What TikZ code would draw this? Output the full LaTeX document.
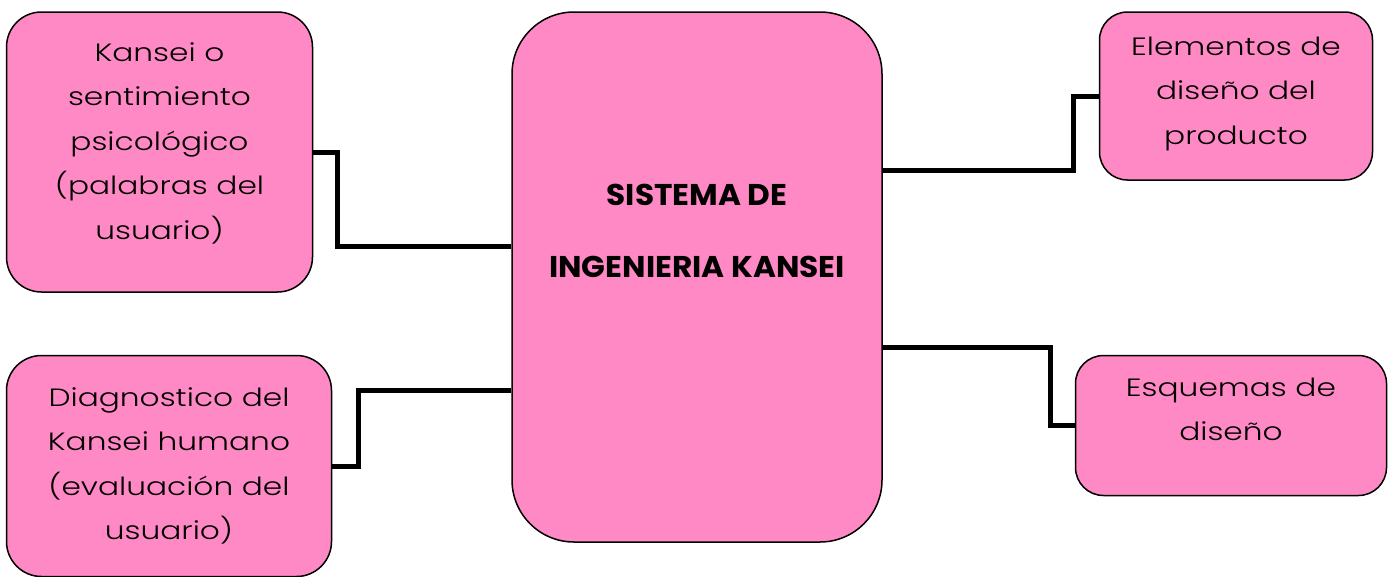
\documentclass[tikz,border=0pt]{standalone}
\usepackage{fontspec}
\setmainfont{Poppins}[UprightFont=* Light, BoldFont=* Bold, FakeStretch=1.25]
\newfontfamily\titulo{Poppins}[FakeStretch=1.04]
\usetikzlibrary{positioning}
\definecolor{rosa}{RGB}{255,137,196}
\tikzset{wire/.style={line width=5pt, black}}

\begin{document}
\begin{tikzpicture}[x=1pt,y=-1pt,font=\fontsize{25}{44.5}\selectfont]
\tikzstyle{caja} = [draw, line width=1.5pt, fill=rosa, rounded corners=35pt, align=center, inner sep=0pt, text depth=0pt]
\tikzstyle{central} = [caja, rounded corners=62pt, minimum width=370pt, minimum height=530pt, font=\fontsize{30}{72}\titulo\bfseries]

\useasboundingbox (0,0) rectangle (1400,576);

\node[central, text height=0pt] (sys) at (697,277) {SISTEMA DE\\INGENIERIA KANSEI};

\node[caja, minimum width=306pt, minimum height=280pt, text height=174pt] (kansei) [left = 198pt of sys.north west, anchor=north east] {Kansei o\\sentimiento\\psicológico\\(palabras del\\usuario)};
\node[caja, minimum width=325pt, minimum height=221pt, text height=147pt] (diag) [below = 62pt of kansei.south west, anchor=north west] {Diagnostico del\\Kansei humano\\(evaluación del\\usuario)};
\node[caja, rounded corners=28pt, minimum width=273pt, minimum height=168pt, text height=96pt] (elem) [right = 216pt of sys.north east, anchor=north west] {Elementos de\\diseño del\\producto};
\node[caja, rounded corners=28pt, minimum width=311pt, minimum height=140pt, text height=30pt] (esq) [below = 174pt of elem.south west, anchor=north west, xshift=-24pt] {Esquemas de\\diseño};

\draw[wire] (kansei.east) -- ++(24,0) |- (sys.west |- 0,246);
\draw[wire] (diag.east) -- ++(26,0) |- (sys.west |- 0,390);
\draw[wire] (elem.west) -- ++(-25,0) |- (sys.east |- 0,170);
\draw[wire] (esq.west) -- ++(-24,0) |- (sys.east |- 0,347);
\end{tikzpicture}
\end{document}
